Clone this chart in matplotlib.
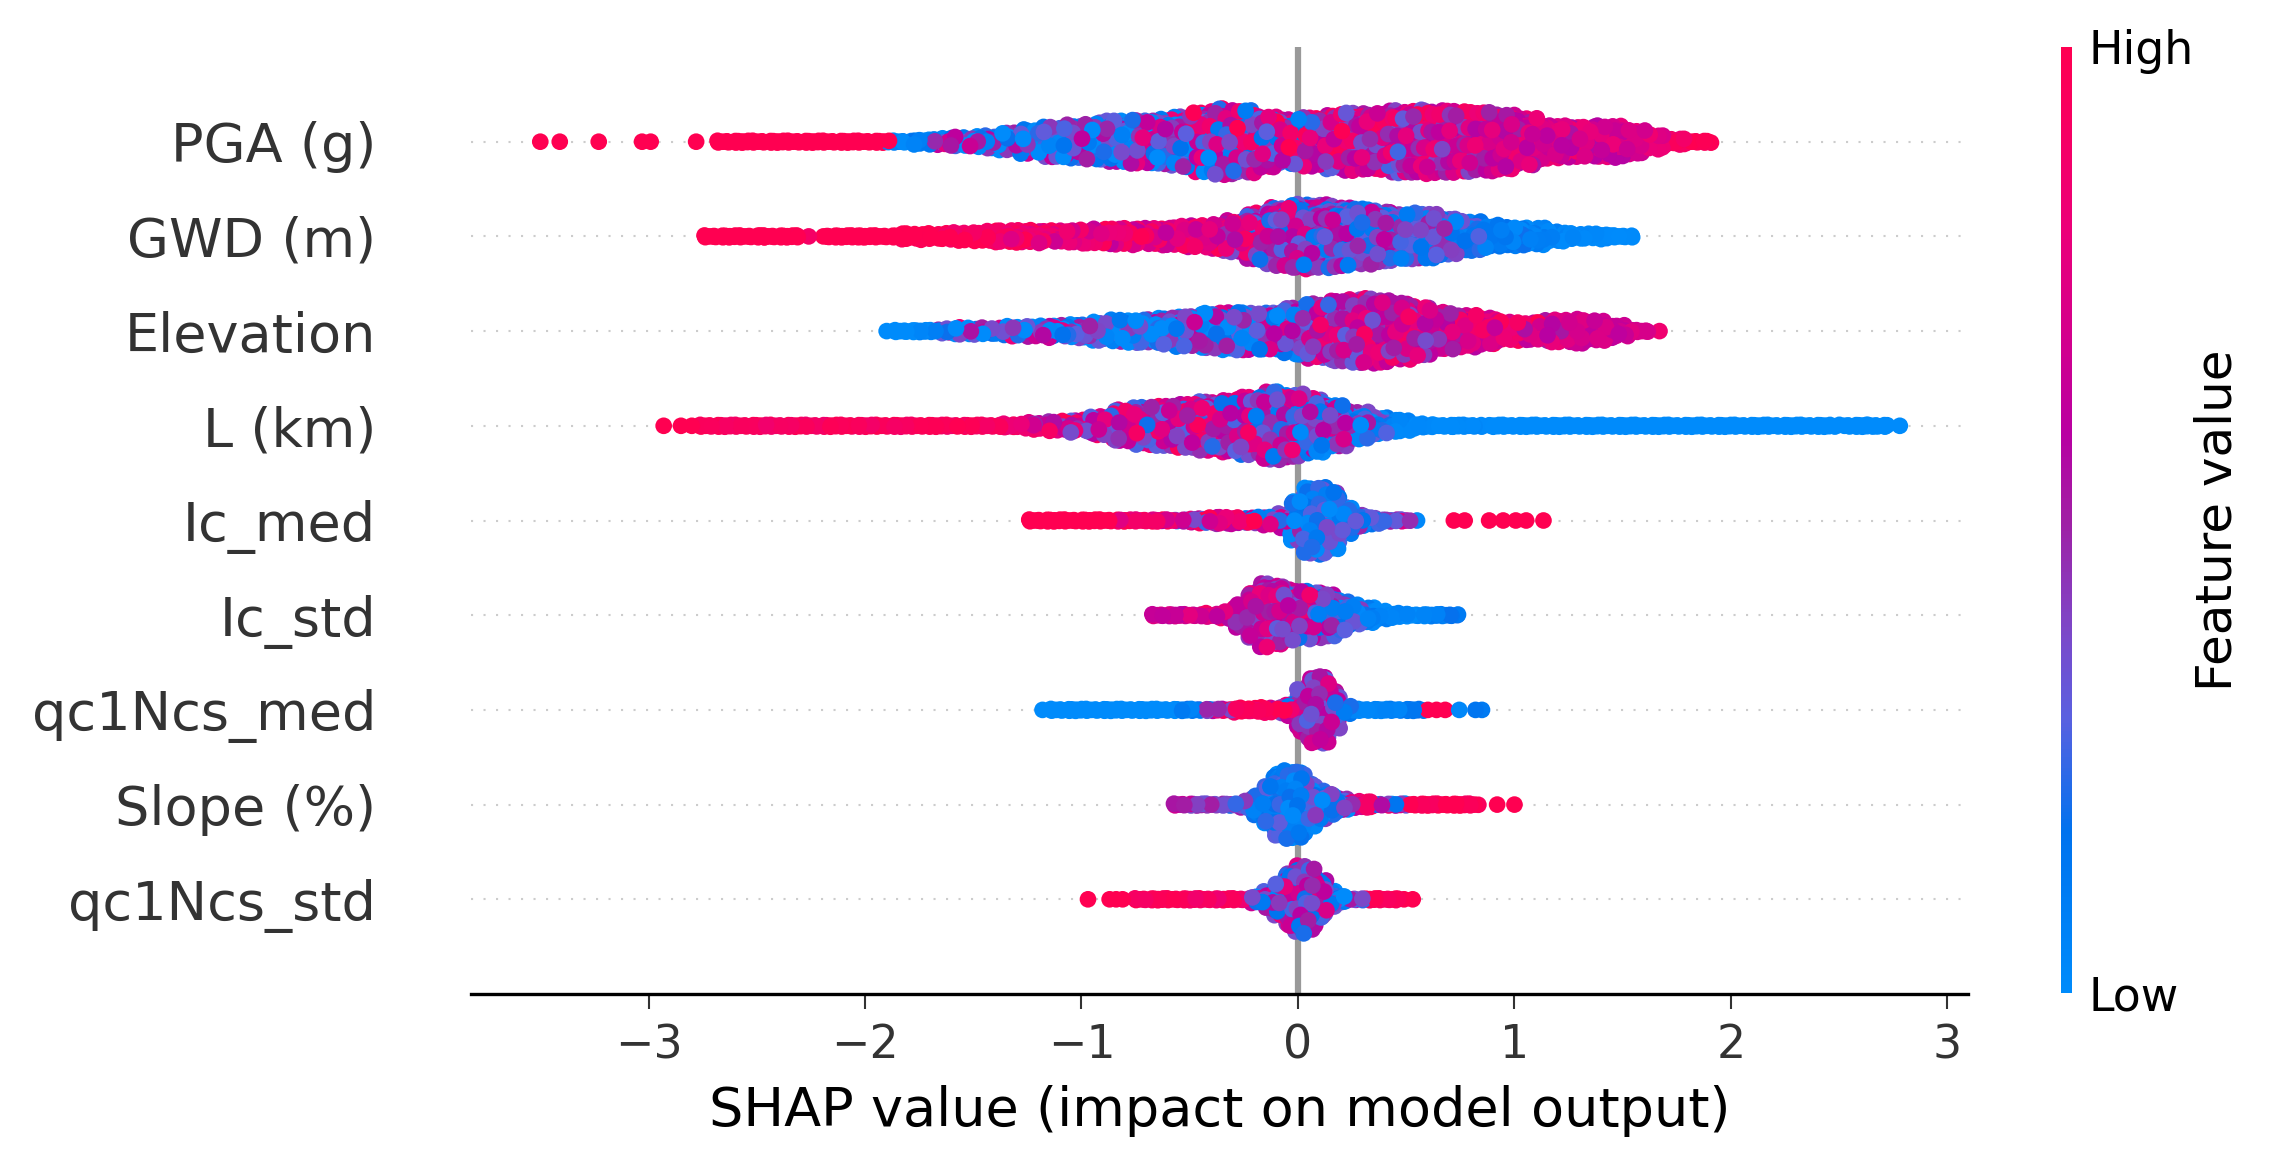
import numpy as np
import matplotlib
matplotlib.use("Agg")
import matplotlib.pyplot as plt
from matplotlib.colors import LinearSegmentedColormap
from matplotlib.cm import ScalarMappable

features = ["PGA (g)", "GWD (m)", "Elevation", "L (km)", "Ic_med", "Ic_std",
            "qc1Ncs_med", "Slope (%)", "qc1Ncs_std"]
xticks = [-3, -2, -1, 0, 1, 2, 3]

# each feature read off the picture as bins along the SHAP axis:
# x = bin centre, h = half height of the swarm, v = mean feature value,
# s = spread of the feature value in that bin, out = lone dots (x, value)
pga_x = [-2.64,-2.54,-2.44,-2.34,-2.24,-2.14,-2.04,-1.94,-1.84,-1.74,-1.64,-1.54,-1.44,-1.34,-1.24,-1.14,-1.04,-.94,-.84,-.74,-.64,-.54,-.44,-.34,-.24,-.14,-.04,.06,.16,.26,.36,.46,.56,.66,.76,.86,.96,1.06,1.16,1.26,1.36,1.46,1.56,1.66,1.76,1.86]
pga_h = [0,.01,.01,.01,.01,.01,.01,.0,.01,.02,.03,.04,.06,.09,.12,.15,.17,.19,.21,.23,.23,.26,.31,.34,.32,.27,.23,.25,.28,.30,.29,.32,.33,.32,.32,.30,.29,.24,.17,.16,.16,.16,.12,.07,.02,.0]
pga_v = [1,1,1,1,1,1,1,1,.05,.08,.35,.25,.25,.25,.25,.25,.25,.27,.3,.33,.38,.42,.48,.52,.55,.55,.55,.6,.62,.64,.64,.62,.65,.66,.66,.68,.68,.68,.72,.7,.7,.7,.74,.8,.88,.97]
pga_s = [0,0,0,0,0,0,0,0,.05,.1,.6,.45,.45,.45,.45,.4,.4,.4,.45,.5,.5,.5,.55,.55,.5,.5,.55,.5,.4,.35,.35,.4,.35,.3,.3,.25,.2,.2,.15,.2,.15,.15,.1,.1,.08,.05]
pga_out = [(-3.50,1),(-3.41,1),(-3.23,1),(-3.03,1),(-2.99,1),(-2.78,1)]

gwd_x = [-2.70,-2.60,-2.50,-2.40,-2.10,-2.0,-1.9,-1.8,-1.7,-1.6,-1.5,-1.4,-1.3,-1.2,-1.1,-1.0,-.9,-.8,-.7,-.6,-.5,-.4,-.3,-.2,-.1,0,.1,.2,.3,.4,.5,.6,.7,.8,.9,1.0,1.1,1.2,1.3,1.4,1.5]
gwd_h = [0,0,0,0,.0,.01,.015,.02,.03,.035,.04,.05,.055,.06,.06,.065,.07,.08,.085,.09,.105,.12,.16,.24,.3,.335,.33,.31,.285,.26,.24,.225,.19,.15,.11,.09,.08,.045,.03,.02,.01]
gwd_v = [1,1,1,1,1,1,1,1,1,.95,.95,.92,.88,.85,.82,.8,.8,.78,.8,.8,.8,.75,.65,.55,.5,.46,.42,.38,.36,.34,.3,.28,.26,.2,.14,.1,.07,.05,.03,.02,.01]
gwd_s = [0,0,0,0,0,0,0,.05,.05,.1,.1,.1,.15,.15,.2,.2,.2,.2,.2,.2,.2,.25,.35,.4,.4,.4,.4,.3,.3,.3,.25,.25,.25,.2,.12,.1,.08,.05,.03,.02,.01]
gwd_out = [(-2.31,.95),(-2.26,.9),(-2.17,.95)]

elev_x = [-1.82,-1.72,-1.62,-1.52,-1.42,-1.32,-1.22,-1.12,-1.02,-.92,-.82,-.72,-.62,-.52,-.42,-.32,-.22,-.12,-.02,.08,.18,.28,.38,.48,.58,.68,.78,.88,.98,1.08,1.18,1.28,1.38,1.48,1.58]
elev_h = [0,.01,.02,.03,.035,.045,.05,.06,.07,.09,.11,.12,.13,.16,.18,.19,.19,.2,.24,.28,.31,.34,.33,.29,.25,.19,.16,.13,.09,.09,.11,.12,.1,.06,.01]
elev_v = [0,.05,.35,.3,.4,.35,.3,.3,.2,.18,.18,.2,.22,.25,.25,.3,.28,.32,.4,.52,.56,.6,.62,.65,.62,.65,.7,.8,.85,.76,.7,.68,.68,.66,.72]
elev_s = [0,.05,.55,.6,.55,.55,.6,.5,.45,.35,.35,.4,.45,.45,.45,.5,.45,.45,.45,.4,.35,.35,.3,.28,.28,.28,.22,.18,.15,.28,.22,.08,.08,.05,.05]
elev_out = [(-1.90,0),(1.67,.85)]

l_x = [-2.72,-2.62,-2.52,-2.42,-2.32,-2.22,-2.12,-2.02,-1.92,-1.82,-1.72,-1.62,-1.52,-1.42,-1.32,-1.22,-1.12,-1.02,-.92,-.82,-.72,-.62,-.52,-.42,-.32,-.22,-.12,-.02,.08,.18,.28,.38,.48,.58,.68,.78,.98,1.18,1.38,1.58,1.78,1.98,2.18,2.38,2.58,2.68]
l_h = [0,0,0,0,0,.0,0,.0,.0,.005,.005,.01,.01,.01,.02,.03,.045,.06,.09,.16,.19,.2,.22,.25,.27,.30,.35,.33,.28,.22,.14,.08,.05,.02,.01,.005,.01,.01,.01,.01,.01,.01,.015,.015,.01,.0]
l_v = [.97,.92,.95,.9,.95,.9,.97,.92,.97,.92,.97,.92,.95,.92,.9,.72,.66,.65,.6,.55,.55,.6,.6,.58,.52,.5,.46,.42,.38,.35,.28,.18,.04,.02,0,.02,0,0,0,0,0,0,0,0,0,0]
l_s = [.03,.03,.05,.05,.05,.05,.03,.05,.03,.05,.03,.05,.05,.05,.1,.3,.35,.4,.4,.4,.4,.4,.4,.4,.45,.45,.45,.45,.45,.4,.35,.25,.04,.02,0,.02,0,0,0,0,0,0,0,0,0,0]
l_out = [(-2.93,1),(-2.85,1),(-2.80,1),(2.78,0)]

icm_x = [-1.20,-1.10,-1.0,-.9,-.8,-.7,-.62,-.54,-.46,-.38,-.30,-.22,-.14,-.07,-.01,.05,.11,.17,.23,.29,.35,.41,.48]
icm_h = [0,.0,.0,.01,.01,.01,.01,.015,.02,.025,.03,.03,.04,.07,.21,.34,.35,.29,.13,.06,.03,.015,.0]
icm_v = [1,1,1,1,.9,.9,.85,.45,.65,.75,.75,.55,.45,.4,.25,.18,.18,.2,.22,.28,.2,.38,.52]
icm_s = [0,0,0,0,.2,.2,.3,.5,.5,.3,.3,.5,.5,.45,.35,.22,.22,.25,.25,.25,.25,.25,.25]
icm_out = [(.55,.02),(.72,1),(.77,1),(.883,1),(.948,1),(1.006,1),(1.054,1),(1.134,1)]

ics_x = [-.64,-.56,-.48,-.40,-.33,-.27,-.21,-.15,-.09,-.03,.03,.09,.15,.21,.27,.33,.39,.47,.55,.63,.70]
ics_h = [0,0,.0,.02,.04,.12,.24,.33,.31,.26,.25,.23,.21,.15,.1,.07,.04,.02,.005,.0,.0]
ics_v = [.7,.66,.7,.75,.68,.64,.6,.6,.58,.54,.5,.44,.35,.25,.22,.08,.04,.03,.03,.08,.15]
ics_s = [.08,.08,.1,.2,.22,.25,.25,.25,.3,.35,.4,.4,.35,.3,.25,.12,.08,.04,.03,.05,.05]
ics_out = [(.736,.2)]

qcm_x = [-1.10,-1.0,-.9,-.8,-.7,-.6,-.5,-.42,-.34,-.26,-.18,-.10,-.04,.02,.07,.12,.17,.22,.30,.38,.46,.54]
qcm_h = [0,0,0,0,.0,.005,.01,.01,.015,.02,.02,.025,.06,.22,.34,.35,.2,.03,.01,.005,.005,.0]
qcm_v = [0,0,0,0,0,0,.1,.3,.7,.95,.9,.7,.55,.55,.52,.52,.48,.12,.04,.04,.1,.15]
qcm_s = [0,0,0,0,0,0,.1,.4,.4,.1,.2,.4,.5,.3,.25,.25,.3,.12,.04,.04,.08,.08]
qcm_out = [(-1.18,0),(.60,1),(.64,1),(.68,1),(.745,.03),(.82,.15),(.85,.12)]

slp_x = [-.54,-.46,-.38,-.30,-.24,-.19,-.14,-.09,-.04,.01,.06,.11,.16,.21,.27,.33,.39,.47,.55,.63,.71,.79]
slp_h = [0,0,.0,.01,.04,.1,.2,.33,.35,.34,.22,.14,.1,.06,.03,.02,.015,.01,.01,.01,.01,.0]
slp_v = [.6,.42,.4,.38,.35,.22,.2,.14,.12,.14,.2,.22,.22,.28,.65,.9,.5,.4,.97,.97,1,.95]
slp_s = [.1,.1,.15,.2,.18,.22,.22,.18,.15,.18,.25,.25,.25,.3,.25,.1,.4,.5,.05,.05,0,.05]
slp_out = [(.92,1),(1.0,1)]

qcs_x = [-.72,-.64,-.56,-.48,-.40,-.32,-.26,-.20,-.14,-.09,-.04,.01,.06,.11,.16,.21,.27,.35,.43]
qcs_h = [0,0,.0,.005,.01,.01,.015,.03,.08,.17,.28,.35,.32,.19,.08,.02,.01,.005,.0]
qcs_v = [.95,.97,.97,.92,.9,.95,.85,.3,.35,.4,.42,.45,.45,.4,.25,.18,.42,.95,.95]
qcs_s = [.05,.03,.03,.08,.08,.05,.2,.45,.45,.45,.4,.35,.35,.35,.3,.25,.25,.05,.05]
qcs_out = [(-.97,1),(-.87,1),(-.84,1),(-.81,1),(.44,1),(.49,1),(.53,1)]

rows = [
    (pga_x, pga_h, pga_v, pga_s, pga_out),
    (gwd_x, gwd_h, gwd_v, gwd_s, gwd_out),
    (elev_x, elev_h, elev_v, elev_s, elev_out),
    (l_x, l_h, l_v, l_s, l_out),
    (icm_x, icm_h, icm_v, icm_s, icm_out),
    (ics_x, ics_h, ics_v, ics_s, ics_out),
    (qcm_x, qcm_h, qcm_v, qcm_s, qcm_out),
    (slp_x, slp_h, slp_v, slp_s, slp_out),
    (qcs_x, qcs_h, qcs_v, qcs_s, qcs_out),
]

# fixed cycle for how values mix inside a bin, and how far a dot sits off its column
mix = [.8, -.7, .15, -.25, .9, -.9, .4, -.5, .05, .6, -.15, -.75, .45, .2, -.4, .7, -.05, -.55, .3, .55, -.3, 0, -.8]
wobble = [.3, -.5, .1, .45, -.2, -.4, .5, 0, -.1, .2, -.3, .35, -.45]

colors = [(0, "#008bfb"), (.17, "#0072ee"), (.29, "#5a60e0"), (.39, "#7f45c6"),
          (.5, "#a01fa4"), (.59, "#b800a2"), (.68, "#d0008f"), (.81, "#ec0078"), (1, "#ff0051")]
red_blue = LinearSegmentedColormap.from_list("red_blue", colors)


def swarm(ax, y0, x, h, v, s, lone):
    xs, ys, cs = [], [], []
    widths = np.gradient(np.array(x, dtype=float))
    k = 0
    for i in range(len(x)):
        nlay = int(round(h[i] / 0.035))
        # thin tails need closer dots or they look like beads
        step = 0.03 if nlay > 0 else 0.012
        ncol = max(int(round(widths[i] / step)), 2)
        for c in range(ncol):
            px = x[i] + widths[i] * ((c + .5) / ncol - .5)
            for l in range(-nlay, nlay + 1):
                xs.append(px + .02 * wobble[k % len(wobble)])
                ys.append(y0 + l * h[i] / max(nlay, 1) + .02 * wobble[(k + 5) % len(wobble)])
                cs.append(np.clip(v[i] + s[i] * mix[k % len(mix)], 0, 1))
                k += 1
    for lx, lv in lone:
        xs.append(lx)
        ys.append(y0)
        cs.append(lv)
    # shuffle the draw order the same way each run, like the dots piling up
    order = np.argsort((np.arange(len(xs)) * 7919) % 10007)
    xs, ys, cs = np.array(xs)[order], np.array(ys)[order], np.array(cs)[order]
    ax.scatter(xs, ys, c=cs, cmap=red_blue, vmin=0, vmax=1, s=16, linewidths=0, zorder=3)


W, H = 2270, 1167
fig = plt.figure(figsize=(W / 300, H / 300), dpi=300)
ax = fig.add_axes([471 / W, 1 - 994 / H, (1968 - 471) / W, (994 - 47) / H])

n = len(features)
for i in range(n):
    ax.axhline(i, color="#cccccc", lw=0.5, dashes=(1, 5), zorder=-1)
ax.axvline(0, color="#999999", lw=1.5, zorder=-1)

for i, row in enumerate(rows):
    swarm(ax, n - 1 - i, *row)

ax.set_xlim(-3.82, 3.095)
ax.set_ylim(-1, n)
ax.set_yticks(range(n))
ax.set_yticklabels(features[::-1], fontsize=13, color="#333333")
ax.tick_params(axis="y", length=0, pad=22.8)
ax.set_xticks(xticks)
ax.tick_params(axis="x", labelsize=11, labelcolor="#333333", color="#333333", width=0.5)
ax.set_xlabel("SHAP value (impact on model output)", fontsize=13)
for side in ["top", "left", "right"]:
    ax.spines[side].set_visible(False)

cax = fig.add_axes([2061 / W, 1 - 993 / H, 11 / W, (993 - 47) / H])
cb = fig.colorbar(ScalarMappable(cmap=red_blue), cax=cax, ticks=[0, 1])
cb.set_ticklabels(["Low", "High"])
cb.ax.tick_params(labelsize=11, length=0, pad=4)
cb.set_label("Feature value", size=12, labelpad=0)
cb.outline.set_visible(False)

fig.savefig("out.png", dpi=300)
